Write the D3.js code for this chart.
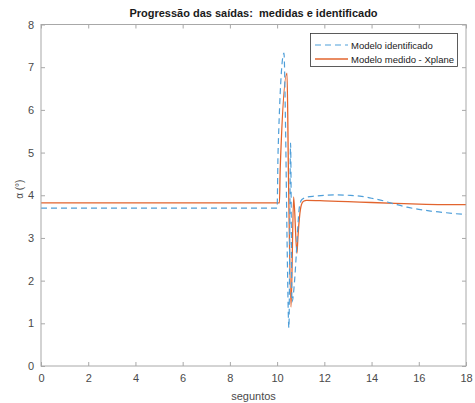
<!DOCTYPE html>
<html><head><meta charset="utf-8">
<script src="https://cdn.jsdelivr.net/npm/d3@7"></script>
<style>body{margin:0;background:#fff}svg{display:block;font-family:"Liberation Sans",Arial,sans-serif}text{white-space:pre}</style>
</head><body>
<svg id="c" width="475" height="403"></svg>
<script>
// Data
const titleText = "Progressão das saídas:  medidas e identificado";
const xLabel = "seguntos";
const yLabel = "α (°)";
const xTicks = [0,2,4,6,8,10,12,14,16,18];
const yTicks = [0,1,2,3,4,5,6,7,8];
const seriesNames = ["Modelo identificado","Modelo medido - Xplane"];

// Modelo identificado (blue dashed)
const tIdent = [0,10.0,10.04,10.29,10.36,10.42,10.5,10.57,10.63,10.74,10.8,10.86,10.95,11.05,11.3,11.6,12,12.5,13,13.5,14,14.5,14.8,15,15.5,16,16.5,17,17.5,18];
const vIdent = [3.70,3.70,5.0,7.33,5.5,3.0,0.89,5.22,1.5,2.0,2.5,3.1,3.75,3.9,3.96,3.98,4.0,4.01,4.0,3.98,3.93,3.87,3.82,3.79,3.72,3.67,3.63,3.60,3.57,3.55];

// Modelo medido - Xplane (orange solid)
const tMed = [0,10.1,10.13,10.42,10.48,10.59,10.7,10.84,10.88,10.95,11.03,11.12,11.25,12,13,14,15,16,17,18];
const vMed = [3.82,3.82,4.6,6.86,4.5,1.38,3.96,2.64,3.0,3.5,3.78,3.86,3.88,3.87,3.85,3.83,3.81,3.79,3.78,3.78];

const W = 475, H = 403;
const m = {l:41, r:9, t:24.5, b:37};
const svg = d3.select("#c");
const x = d3.scaleLinear().domain([0,18]).range([m.l, W-m.r]);
const y = d3.scaleLinear().domain([0,8]).range([H-m.b, m.t]);
const axisCol = "#a8a8a8", txtCol = "#4a4a4a";

svg.append("rect").attr("x",m.l).attr("y",m.t).attr("width",W-m.l-m.r).attr("height",H-m.t-m.b).attr("fill","#fff");

svg.append("clipPath").attr("id","clp").append("rect")
  .attr("x",m.l).attr("y",m.t).attr("width",W-m.l-m.r).attr("height",H-m.t-m.b);

const line = d3.line().x(d=>x(d[0])).y(d=>y(d[1])).curve(d3.curveMonotoneX);
const g = svg.append("g").attr("clip-path","url(#clp)");
g.append("path").datum(tMed.map((t,i)=>[t,vMed[i]]))
  .attr("d",line).attr("fill","none").attr("stroke","#e2642e").attr("stroke-width",1.3);
g.append("path").datum(tIdent.map((t,i)=>[t,vIdent[i]]))
  .attr("d",line).attr("fill","none").attr("stroke","#4f9fd9").attr("stroke-width",1.2)
  .attr("stroke-dasharray","6,4");

function styleAxis(sel){
  sel.select(".domain").remove();
  sel.selectAll(".tick line").attr("stroke",axisCol);
  sel.selectAll(".tick text").attr("fill",txtCol).attr("font-size","11px");
}
const tk = 4;
svg.append("g").attr("transform",`translate(0,${H-m.b})`)
  .call(d3.axisBottom(x).tickValues(xTicks).tickSize(-tk).tickPadding(8).tickFormat(d3.format("d"))).call(styleAxis);
svg.append("g").attr("transform",`translate(0,${m.t})`)
  .call(d3.axisTop(x).tickValues(xTicks).tickSize(-tk).tickFormat("")).call(styleAxis);
svg.append("g").attr("transform",`translate(${m.l},0)`)
  .call(d3.axisLeft(y).tickValues(yTicks).tickSize(-tk).tickPadding(7).tickFormat(d3.format("d"))).call(styleAxis);
svg.append("g").attr("transform",`translate(${W-m.r},0)`)
  .call(d3.axisRight(y).tickValues(yTicks).tickSize(-tk).tickFormat("")).call(styleAxis);

svg.append("rect").attr("x",m.l).attr("y",m.t).attr("width",W-m.l-m.r).attr("height",H-m.t-m.b)
  .attr("fill","none").attr("stroke",axisCol).attr("stroke-width",1);

svg.append("text").attr("x",(m.l+W-m.r)/2).attr("y",17).attr("text-anchor","middle")
  .attr("font-size","11px").attr("font-weight","bold").attr("fill","#1a1a1a").text(titleText);
svg.append("text").attr("x",(m.l+W-m.r)/2).attr("y",400).attr("text-anchor","middle")
  .attr("font-size","11px").attr("fill",txtCol).text(xLabel);
svg.append("text").attr("transform",`translate(23,${(m.t+H-m.b)/2 - 6}) rotate(-90)`).attr("text-anchor","middle")
  .attr("font-size","10px").attr("fill",txtCol).text(yLabel);

const lg = svg.append("g");
lg.append("rect").attr("x",310.5).attr("y",33.5).attr("width",147).attr("height",33)
  .attr("fill","#fff").attr("stroke","#333").attr("stroke-width",0.8);
const cols = ["#4f9fd9","#e2642e"], dashes = ["6,4",null], ys = [45,59];
seriesNames.forEach((n,i)=>{
  const l = lg.append("line").attr("x1",315).attr("x2",348).attr("y1",ys[i]).attr("y2",ys[i])
    .attr("stroke",cols[i]).attr("stroke-width",i?1.3:1.2);
  if (dashes[i]) l.attr("stroke-dasharray",dashes[i]);
  lg.append("text").attr("x",351).attr("y",ys[i]+3.5).attr("font-size","9.5px").attr("fill","#1a1a1a").text(n);
});
</script>
</body></html>
